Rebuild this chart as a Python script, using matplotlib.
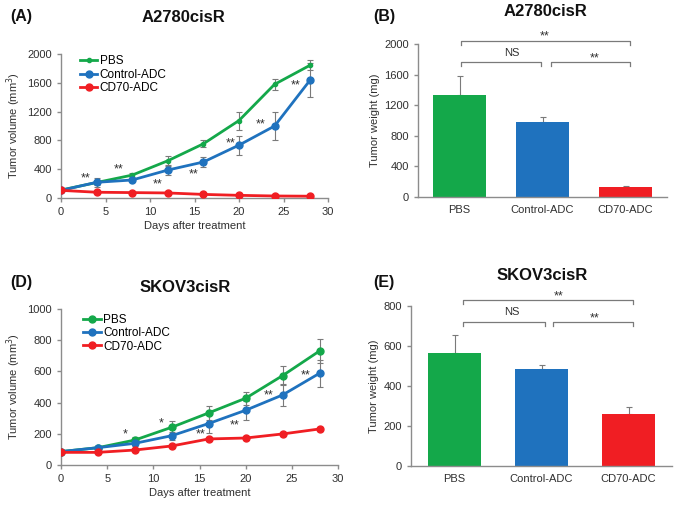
import matplotlib
matplotlib.use('Agg')
import matplotlib.pyplot as plt
from matplotlib.transforms import offset_copy

plt.rcParams['font.family'] = ['Liberation Sans', 'DejaVu Sans']
plt.rcParams['font.size'] = 8

# 色 (Excel風)
c_green = '#14a84a'
c_blue = '#1f72be'
c_red = '#f01e23'
c_axis = '#8c8c8c'
c_err = '#7a7a7a'
c_text = '#303030'

# --- (A) A2780cisR 腫瘍体積 ---
days = [0, 4, 8, 12, 16, 20, 24, 28]
a_pbs = [110, 215, 318, 517, 753, 1076, 1579, 1845]
a_pbs_err = [15, 40, 30, 70, 50, 125, 80, 65]
a_ctrl = [106, 218, 250, 388, 500, 734, 1000, 1639]
a_ctrl_err = [15, 64, 25, 75, 75, 130, 190, 235]
a_cd70 = [106, 80, 75, 70, 50, 37, 28, 25]
a_cd70_err = [10, 10, 10, 10, 8, 8, 6, 6]
a_star_x = [2.8, 6.5, 10.8, 14.9, 19.1, 22.4, 26.4]
a_star_y = [315, 440, 240, 380, 810, 1074, 1618]
a_star_txt = ['**', '**', '**', '**', '**', '**', '**']

# --- (D) SKOV3cisR 腫瘍体積 ---
d_pbs = [86, 111, 160, 242, 334, 428, 573, 731]
d_pbs_err = [8, 10, 22, 43, 45, 43, 62, 75]
d_ctrl = [86, 111, 139, 188, 266, 351, 449, 588]
d_ctrl_err = [8, 10, 15, 25, 60, 62, 71, 85]
d_cd70 = [81, 81, 96, 122, 167, 173, 199, 231]
d_cd70_err = [5, 5, 8, 10, 10, 10, 10, 12]
d_star_x = [6.9, 10.8, 15.1, 18.8, 22.5, 26.5]
d_star_y = [220, 289, 218, 276, 470, 598]
d_star_txt = ['*', '*', '**', '**', '**', '**']

# --- (B)(E) 腫瘍重量 ---
groups = ['PBS', 'Control-ADC', 'CD70-ADC']
b_weight = [1333, 976, 135]
b_err = [250, 74, 15]
e_weight = [563, 483, 261]
e_err = [92, 20, 35]

# 有意差ブラケット (x1, x2, y, 文字)
b_brackets = [(0.02, 2.05, 2043, '**'), (0.02, 0.98, 1765, 'NS'), (1.1, 2.05, 1765, '**')]
b_labels = [(1.03, 2140, '**'), (0.63, 1878, 'NS'), (1.63, 1856, '**')]
e_brackets = [(0.1, 2.05, 830, '**'), (0.1, 1.04, 721, 'NS'), (1.13, 2.05, 721, '**')]
e_labels = [(1.2, 866, '**'), (0.66, 768, 'NS'), (1.61, 755, '**')]


def style_axes(ax):
    for s in ['top', 'right']:
        ax.spines[s].set_visible(False)
    for s in ['left', 'bottom']:
        ax.spines[s].set_color(c_axis)
        ax.spines[s].set_linewidth(1.0)
    ax.tick_params(colors=c_axis, labelcolor=c_text, labelsize=8, length=3, width=1)


def star_text(ax, x, y, t):
    # アスタリスクは上寄りに描かれるので少し下げる
    if '*' in t:
        tr = offset_copy(ax.transData, fig=ax.figure, x=0, y=-2.5, units='points')
        ax.text(x, y, t, ha='center', va='center', fontsize=9, color=c_text,
                transform=tr, clip_on=False)
    else:
        ax.text(x, y, t, ha='center', va='center', fontsize=8, color=c_text, clip_on=False)


def line_panel(ax, pbs, pbs_e, ctrl, ctrl_e, cd70, cd70_e, ymax, ystep, sx, sy, st, pbs_ms, leg_anchor):
    ekw = dict(ecolor=c_err, elinewidth=0.8, capsize=2, capthick=0.8, fmt='none', zorder=1)
    ax.errorbar(days, pbs, yerr=pbs_e, **ekw)
    ax.errorbar(days, ctrl, yerr=ctrl_e, **ekw)
    ax.errorbar(days, cd70, yerr=cd70_e, **ekw)
    ax.plot(days, pbs, '-o', color=c_green, lw=2, ms=pbs_ms, label='PBS', zorder=3)
    ax.plot(days, ctrl, '-o', color=c_blue, lw=2, ms=5, label='Control-ADC', zorder=3)
    ax.plot(days, cd70, '-o', color=c_red, lw=2, ms=5, label='CD70-ADC', zorder=3)
    for x, y, t in zip(sx, sy, st):
        star_text(ax, x, y, t)
    ax.set_xlim(0, 30)
    ax.set_ylim(0, ymax)
    ax.set_xticks(range(0, 31, 5))
    ax.set_yticks(range(0, ymax + 1, ystep))
    ax.set_xlabel('Days after treatment', fontsize=8, color=c_text, labelpad=3)
    ax.set_ylabel('Tumor volume (mm$^3$)', fontsize=8, color=c_text, labelpad=3)
    ax.legend(loc='upper left', bbox_to_anchor=leg_anchor, frameon=False, fontsize=8.5,
              handlelength=1.5, handletextpad=0.2, labelspacing=0.12, borderpad=0, borderaxespad=0)
    style_axes(ax)


def bar_panel(ax, vals, errs, ymax, ystep, width, brackets, labels):
    ax.bar(range(3), vals, width=width, color=[c_green, c_blue, c_red], zorder=2)
    ax.errorbar(range(3), vals, yerr=[[0, 0, 0], errs], fmt='none', ecolor=c_err,
                elinewidth=0.8, capsize=2, capthick=0.8, zorder=1)
    tick = ymax * 0.025
    for x1, x2, y, _ in brackets:
        ax.plot([x1, x1, x2, x2], [y - tick, y, y, y - tick], color=c_err, lw=0.9, clip_on=False)
    for x, y, t in labels:
        star_text(ax, x, y, t)
    ax.set_xlim(-0.5, 2.5)
    ax.set_ylim(0, ymax)
    ax.set_xticks(range(3))
    ax.set_xticklabels(groups)
    ax.set_yticks(range(0, ymax + 1, ystep))
    ax.set_ylabel('Tumor weight (mg)', fontsize=8, color=c_text, labelpad=3)
    style_axes(ax)
    ax.tick_params(axis='x', length=0, pad=6)


W, H = 699, 508
fig = plt.figure(figsize=(W / 100, H / 100), dpi=100)

axA = fig.add_axes([61 / W, (H - 198) / H, 267 / W, 144 / H])
line_panel(axA, a_pbs, a_pbs_err, a_ctrl, a_ctrl_err, a_cd70, a_cd70_err, 2000, 400,
           a_star_x, a_star_y, a_star_txt, 3, (0.07, 0.99))

axB = fig.add_axes([418 / W, (H - 197) / H, 249 / W, 153 / H])
bar_panel(axB, b_weight, b_err, 2000, 400, 0.63, b_brackets, b_labels)

axD = fig.add_axes([61 / W, (H - 465) / H, 277 / W, 156 / H])
line_panel(axD, d_pbs, d_pbs_err, d_ctrl, d_ctrl_err, d_cd70, d_cd70_err, 1000, 200,
           d_star_x, d_star_y, d_star_txt, 5, (0.08, 0.97))

axE = fig.add_axes([411 / W, (H - 466) / H, 261 / W, 160 / H])
bar_panel(axE, e_weight, e_err, 800, 200, 0.62, e_brackets, e_labels)

# タイトルとパネル記号
def ftext(x, y, s, size=12, ha='center'):
    fig.text(x / W, 1 - y / H, s, ha=ha, va='center', fontsize=size, fontweight='bold', color='#111111')

ftext(183, 17, 'A2780cisR')
ftext(10, 17, '(A)', 11.5, 'left')
ftext(545, 12, 'A2780cisR')
ftext(373, 17, '(B)', 11.5, 'left')
ftext(185, 287, 'SKOV3cisR')
ftext(10, 282, '(D)', 11.5, 'left')
ftext(542, 275, 'SKOV3cisR')
ftext(373, 283, '(E)', 11.5, 'left')

fig.savefig('out.png', dpi=100, facecolor='white')
